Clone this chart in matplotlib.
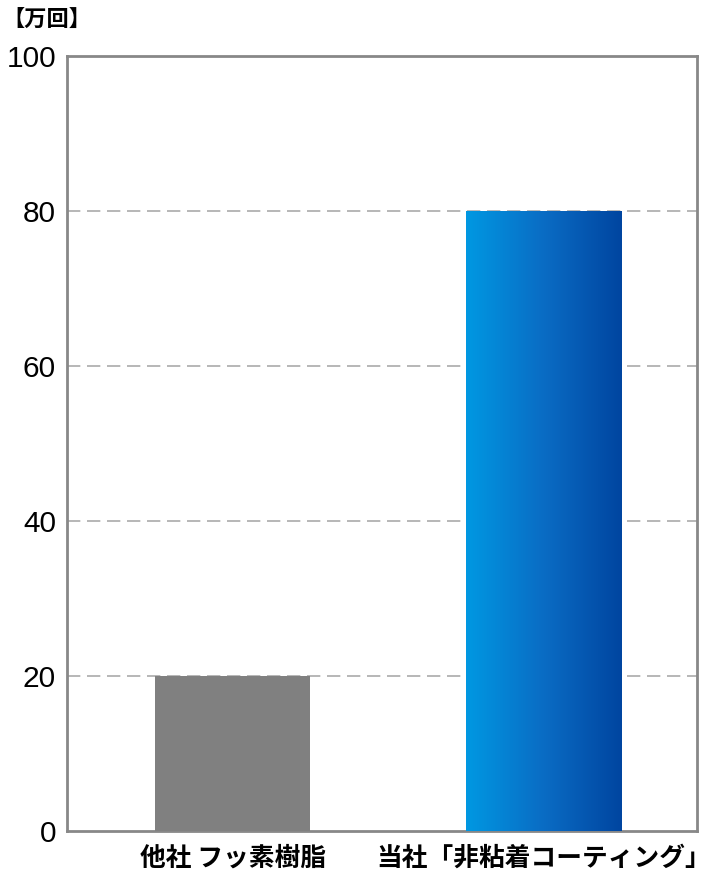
import numpy as np
import matplotlib

matplotlib.use("Agg")
import matplotlib.pyplot as plt
from matplotlib.colors import LinearSegmentedColormap

plt.rcParams['font.family'] = ['Noto Sans CJK JP', 'DejaVu Sans']

# データ
categories = ['他社 フッ素樹脂', '当社「非粘着コーティング」']
values = [20, 80]
yticks = [0, 20, 40, 60, 80, 100]
unit_label = '【万回】'

fig = plt.figure(figsize=(7.1, 8.74), dpi=100)
ax = fig.add_axes([0.0944, 0.0492, 0.8873, 0.8867])

x = np.arange(len(categories))
bar_w = 0.5
bars = ax.bar(x, values, width=bar_w, color=['#808080', 'none'], zorder=3)

# 当社バーはグラデーション
blue = LinearSegmentedColormap.from_list('blue_grad', ['#0098e2', '#0a6cc4', '#0045a0'])
b = bars[1]
grad = np.linspace(0, 1, 256).reshape(1, -1)
ax.imshow(grad, cmap=blue, aspect='auto', zorder=3,
          extent=(b.get_x(), b.get_x() + b.get_width(), 0, b.get_height()))

ax.set_xlim(-0.533, 1.494)
ax.set_ylim(0, 100)
ax.set_yticks(yticks)
ax.set_yticklabels([str(t) for t in yticks], fontsize=21.5, family='Liberation Sans')
ax.set_xticks(x)
ax.set_xticklabels(categories, fontsize=18.5, fontweight='bold')
ax.tick_params(axis='both', length=0)
ax.tick_params(axis='y', pad=8)
ax.tick_params(axis='x', pad=10)

for t in yticks[1:-1]:
    ax.axhline(t, color='#aaaaaa', lw=1.2, ls=(0, (8, 4)), zorder=1)

for s in ax.spines.values():
    s.set_color('#888888')
    s.set_linewidth(2)

fig.text(0.004, 0.99, unit_label, fontsize=16, fontweight='bold', va='top', ha='left')

plt.savefig('out.png', dpi=100)
plt.close()
